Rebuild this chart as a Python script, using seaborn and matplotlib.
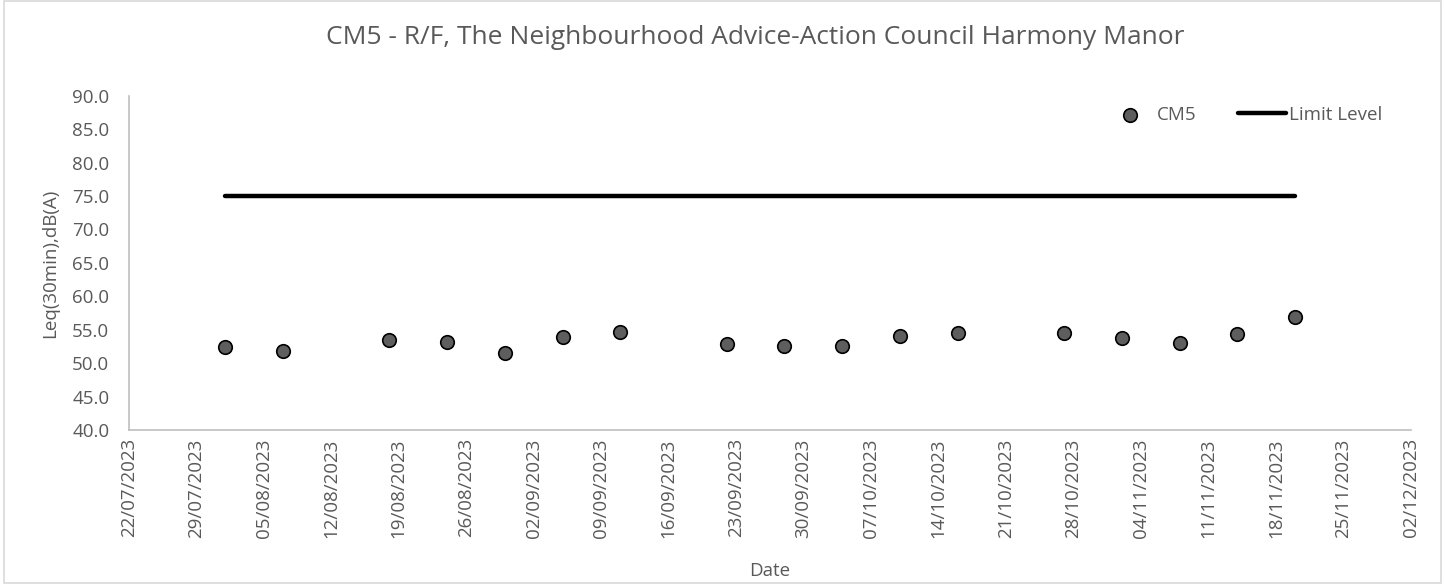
import numpy as np
import pandas as pd
import matplotlib
matplotlib.use("Agg")
import matplotlib.pyplot as plt
from matplotlib.patches import Rectangle
import seaborn as sns

sns.set_theme(style="white")
plt.rcParams['font.family'] = ['Open Sans', 'DejaVu Sans']

dates = ["2023-08-01", "2023-08-07", "2023-08-18", "2023-08-24", "2023-08-30",
         "2023-09-05", "2023-09-11", "2023-09-22", "2023-09-28", "2023-10-04",
         "2023-10-10", "2023-10-16", "2023-10-27", "2023-11-02", "2023-11-08",
         "2023-11-14", "2023-11-20"]
cm5 = [52.4, 51.8, 53.5, 53.2, 51.5, 53.9, 54.6, 52.8, 52.6, 52.6,
       54.0, 54.5, 54.5, 53.7, 53.0, 54.4, 56.9]
limit_level = 75.0

df = pd.DataFrame({"Date": pd.to_datetime(dates), "CM5": cm5})
df["Limit Level"] = limit_level

grey = "#595959"

fig = plt.figure(figsize=(14.45, 5.84), dpi=100)
ax = fig.add_axes([0.0891, 0.2637, 0.9765 - 0.0891, 0.8361 - 0.2637])

# chart border like the spreadsheet chart area
fig.patches.append(Rectangle((0.003, 0.002), 0.994, 0.996, transform=fig.transFigure,
                             fill=False, edgecolor="#d9d9d9", linewidth=1.2))

sns.lineplot(data=df, x="Date", y="Limit Level", ax=ax, color="black",
             linewidth=3.2, solid_capstyle="round", label="Limit Level", zorder=2)
sns.scatterplot(data=df, x="Date", y="CM5", ax=ax, color="#5e5e5e", s=95,
                edgecolor="black", linewidth=1.2, label="CM5", zorder=3)

ax.set_xlim(pd.Timestamp("2023-07-22"), pd.Timestamp("2023-12-02"))
ax.set_ylim(40, 90)
ax.set_yticks(np.arange(40, 90.1, 5))
ax.yaxis.set_major_formatter(matplotlib.ticker.FormatStrFormatter("%.1f"))
ticks = pd.date_range("2023-07-22", "2023-12-02", freq="7D")
ax.set_xticks(ticks)
ax.set_xticklabels([t.strftime("%d/%m/%Y") for t in ticks], rotation=90)
ax.tick_params(axis="both", labelsize=13.5, colors=grey, length=0)
ax.tick_params(axis="y", pad=14)
ax.tick_params(axis="x", pad=6)

for s in ["top", "right"]:
    ax.spines[s].set_visible(False)
for s in ["left", "bottom"]:
    ax.spines[s].set_color("#bfbfbf")
    ax.spines[s].set_linewidth(1.2)

ax.set_xlabel("Date", fontsize=13.5, color=grey)
ax.set_ylabel("Leq(30min),dB(A)", fontsize=13.5, color=grey)
ax.xaxis.set_label_coords(0.5, -0.395)
ax.yaxis.set_label_coords(-0.054, 0.5)

fig.text(0.523, 0.935, "CM5 - R/F, The Neighbourhood Advice-Action Council Harmony Manor",
         fontsize=19, color=grey, ha="center", va="center")

h, l = ax.get_legend_handles_labels()
order = [l.index("CM5"), l.index("Limit Level")]
ax.legend([h[i] for i in order], [l[i] for i in order], ncol=2, frameon=False,
          loc="center right", bbox_to_anchor=(0.968, 0.803), bbox_transform=fig.transFigure,
          fontsize=13.5, labelcolor=grey, handlelength=2.55, columnspacing=2.2,
          handletextpad=0.15)

fig.savefig("out.png", dpi=100)
